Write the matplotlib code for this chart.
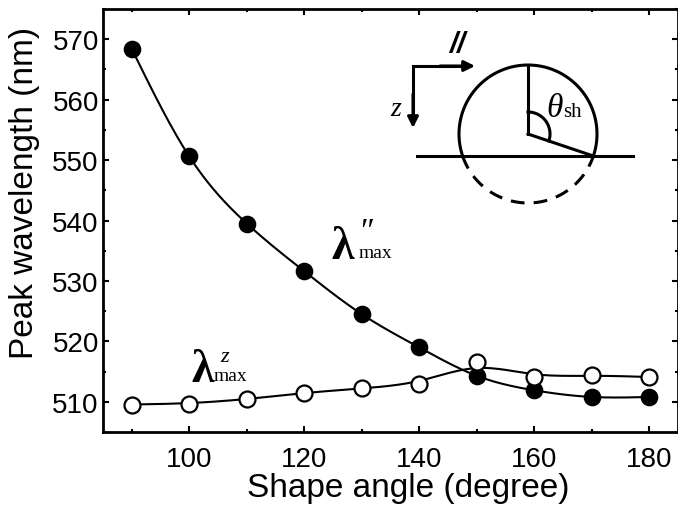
import numpy as np
import matplotlib
matplotlib.use("Agg")
import matplotlib.pyplot as plt
from matplotlib.ticker import MultipleLocator

# data
angles = [90, 100, 110, 120, 130, 140, 150, 160, 170, 180]
lam_par = [568.4, 550.6, 539.5, 531.6, 524.5, 519.0, 514.3, 511.9, 510.8, 510.8]
lam_z = [509.55, 509.7, 510.4, 511.5, 512.2, 513.0, 516.6, 514.1, 514.4, 514.1]

x_ticks = [100, 120, 140, 160, 180]
y_ticks = [510, 520, 530, 540, 550, 560, 570]

plt.rcParams['font.family'] = ['Liberation Sans', 'DejaVu Sans']
SERIF = ['Liberation Serif', 'DejaVu Serif']

#----------------------------------------------------------------------
def naturalSpline(x, y, xs):
    x = np.asarray(x, float); y = np.asarray(y, float)
    n = len(x)
    h = np.diff(x)
    A = np.zeros((n, n)); b = np.zeros(n)
    A[0, 0] = 1; A[-1, -1] = 1
    for i in range(1, n - 1):
        A[i, i - 1] = h[i - 1]
        A[i, i] = 2 * (h[i - 1] + h[i])
        A[i, i + 1] = h[i]
        b[i] = 6 * ((y[i + 1] - y[i]) / h[i] - (y[i] - y[i - 1]) / h[i - 1])
    M = np.linalg.solve(A, b)
    idx = np.clip(np.searchsorted(x, xs) - 1, 0, n - 2)
    x0, x1 = x[idx], x[idx + 1]
    hh = x1 - x0
    return (M[idx] * (x1 - xs) ** 3 / (6 * hh) + M[idx + 1] * (xs - x0) ** 3 / (6 * hh)
            + (y[idx] / hh - M[idx] * hh / 6) * (x1 - xs)
            + (y[idx + 1] / hh - M[idx + 1] * hh / 6) * (xs - x0))

#----------------------------------------------------------------------
def bSpline(x, y, steps=25):
    # uniform cubic B-spline, ends clamped by repeating the end points
    P = np.column_stack([x, y]).astype(float)
    P = np.vstack([P[0], P[0], P, P[-1], P[-1]])
    out = []
    t = np.linspace(0, 1, steps)
    b0 = (1 - t) ** 3 / 6
    b1 = (3 * t ** 3 - 6 * t ** 2 + 4) / 6
    b2 = (-3 * t ** 3 + 3 * t ** 2 + 3 * t + 1) / 6
    b3 = t ** 3 / 6
    for i in range(len(P) - 3):
        seg = (np.outer(b0, P[i]) + np.outer(b1, P[i + 1])
               + np.outer(b2, P[i + 2]) + np.outer(b3, P[i + 3]))
        out.append(seg)
    out = np.vstack(out)
    return out[:, 0], out[:, 1]

#----------------------------------------------------------------------
fig = plt.figure(figsize=(6.78, 5.06), dpi=100)
ax = fig.add_axes([103 / 678, 73 / 506, 575 / 678, 423 / 506])

xs = np.linspace(angles[0], angles[-1], 300)
ax.plot(xs, naturalSpline(angles, lam_par, xs), color='k', lw=1.5, zorder=2)
bx, by = bSpline(angles, lam_z)
ax.plot(bx, by, color='k', lw=1.5, zorder=2)

ax.plot(angles, lam_par, 'o', ms=11.5, mfc='k', mec='k', mew=1.2, zorder=3)
ax.plot(angles, lam_z, 'o', ms=11.5, mfc='white', mec='k', mew=1.6, zorder=4)

ax.set_xlim(85, 185)
ax.set_ylim(505, 575)
ax.set_xticks(x_ticks)
ax.set_yticks(y_ticks)
ax.xaxis.set_minor_locator(MultipleLocator(10))
ax.yaxis.set_minor_locator(MultipleLocator(5))
ax.tick_params(which='both', direction='in', top=True, right=True, width=1.5, labelsize=20)
ax.tick_params(which='major', length=4.5)
ax.tick_params(which='minor', length=2.5)
ax.tick_params(axis='x', pad=10)
ax.tick_params(axis='y', pad=3)
for sp in ax.spines.values():
    sp.set_linewidth(2)

ax.set_xlabel('Shape angle (degree)', fontsize=24)
ax.set_ylabel('Peak wavelength (nm)', fontsize=24)
ax.xaxis.set_label_coords(0.531, -0.094)
ax.yaxis.set_label_coords(-0.11, 0.567)

# overlay in pixel units for the schematic and labels
ov = fig.add_axes([0, 0, 1, 1])
ov.set_xlim(0, 678)
ov.set_ylim(506, 0)
ov.axis('off')
ov.patch.set_alpha(0)

cx, cy, r = 528, 135, 69
lineY = 157
t0 = np.degrees(np.arcsin((lineY - cy) / r))   # below centre
ts = np.radians(np.linspace(-t0, 180 + t0, 200))
ov.plot(cx + r * np.cos(ts), cy - r * np.sin(ts), color='k', lw=2.2)
td = np.radians(np.linspace(180 + t0, 360 - t0, 200))
ov.plot(cx + r * np.cos(td), cy - r * np.sin(td), color='k', lw=2.2, dashes=(4.5, 3))
ov.plot([417, 633], [lineY, lineY], color='k', lw=2.2)
ov.plot([cx, cx], [cy, cy - r], color='k', lw=2.2)
xe = cx + r * np.cos(np.radians(-t0))
ov.plot([cx, xe], [cy, lineY], color='k', lw=2.2)
ta = np.radians(np.linspace(-t0, 90, 60))
ov.plot(cx + 22 * np.cos(ta), cy - 22 * np.sin(ta), color='k', lw=2.2)

ov.plot([413, 413], [67, 120], color='k', lw=2.2, solid_capstyle='projecting')
ov.plot([413, 465], [67, 67], color='k', lw=2.2, solid_capstyle='projecting')
ov.annotate('', xy=(475, 67), xytext=(440, 67),
            arrowprops=dict(arrowstyle='-|>', lw=2.2, color='k', mutation_scale=16,
                            shrinkA=0, shrinkB=0))
ov.annotate('', xy=(413, 129), xytext=(413, 95),
            arrowprops=dict(arrowstyle='-|>', lw=2.2, color='k', mutation_scale=16,
                            shrinkA=0, shrinkB=0))

ov.text(457, 53, '//', fontsize=21, fontweight='bold', fontstyle='italic',
        ha='center', va='baseline')
ov.text(396, 116, 'z', fontsize=20, fontstyle='italic', family=SERIF,
        ha='center', va='baseline')
ov.text(546, 117, 'θ', fontsize=24, fontstyle='italic', family=SERIF,
        ha='left', va='baseline')
ov.text(563, 117, 'sh', fontsize=15, family=SERIF, ha='left', va='baseline')

# curve labels
ov.text(331, 259, 'λ', fontsize=33, fontweight='bold', family=SERIF, ha='left', va='baseline')
ov.text(360, 241, '″', fontsize=24, family=SERIF, ha='left', va='baseline')
ov.text(359, 258, 'max', fontsize=14, family=SERIF, ha='left', va='baseline')

ov.text(191, 382, 'λ', fontsize=33, fontweight='bold', family=SERIF, ha='left', va='baseline')
ov.text(220, 362, 'z', fontsize=16, fontstyle='italic', family=SERIF, ha='left', va='baseline')
ov.text(214, 381, 'max', fontsize=14, family=SERIF, ha='left', va='baseline')

fig.savefig('out.png', dpi=100)
